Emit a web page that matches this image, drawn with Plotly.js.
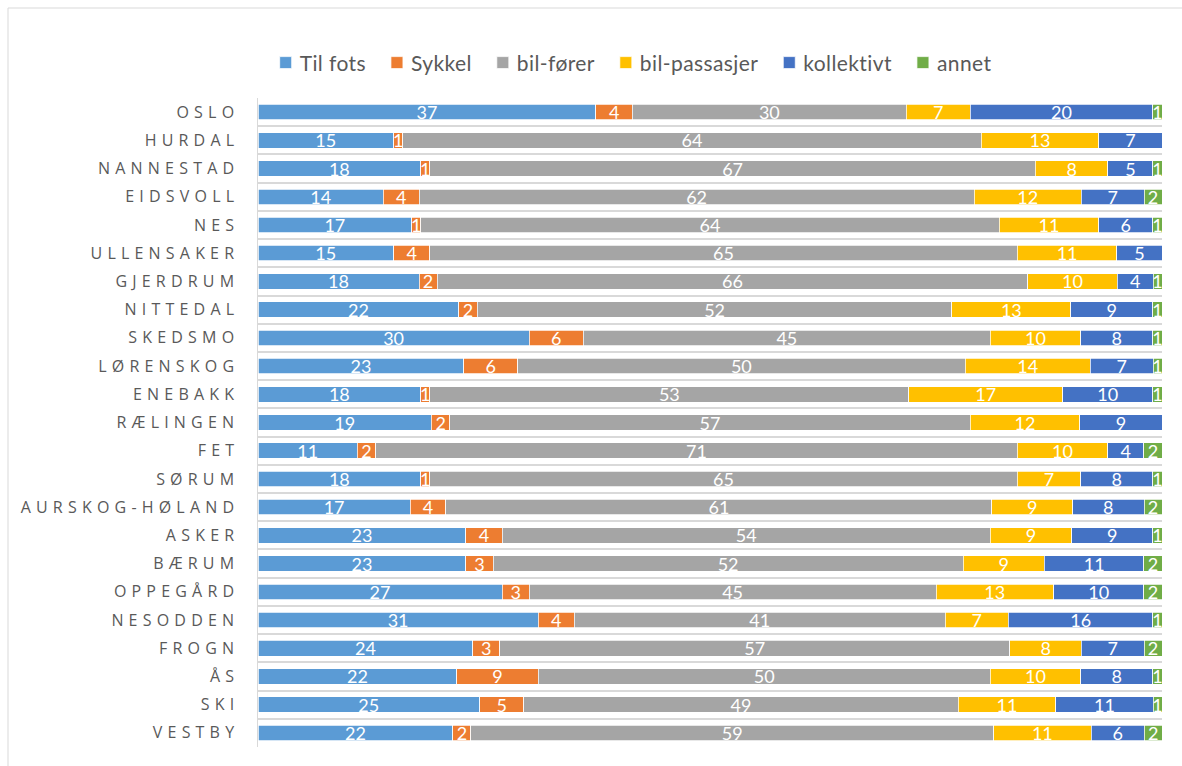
<!DOCTYPE html>
<html>
<head>
<meta charset="utf-8">
<script src="https://cdn.plot.ly/plotly-3.0.1.min.js"></script>
<style>
html,body{margin:0;padding:0;background:#fff;}
#chart{width:1182px;height:766px;}
.ytick text{letter-spacing:5.2px;}
.legendtext{letter-spacing:0.4px;transform:translateX(-6px);}
</style>
</head>
<body>
<div id="chart"></div>
<script>
const categories = ["OSLO","HURDAL","NANNESTAD","EIDSVOLL","NES","ULLENSAKER","GJERDRUM","NITTEDAL","SKEDSMO","LØRENSKOG","ENEBAKK","RÆLINGEN","FET","SØRUM","AURSKOG-HØLAND","ASKER","BÆRUM","OPPEGÅRD","NESODDEN","FROGN","ÅS","SKI","VESTBY"];
const tilFots     = [37,15,18,14,17,15,18,22,30,23,18,19,11,18,17,23,23,27,31,24,22,25,22];
const sykkel      = [4,1,1,4,1,4,2,2,6,6,1,2,2,1,4,4,3,3,4,3,9,5,2];
const bilForer    = [30,64,67,62,64,65,66,52,45,50,53,57,71,65,61,54,52,45,41,57,50,49,59];
const bilPassasjer= [7,13,8,12,11,11,10,13,10,14,17,12,10,7,9,9,9,13,7,8,10,11,11];
const kollektivt  = [20,7,5,7,6,5,4,9,8,7,10,9,4,8,8,9,11,10,16,7,8,11,6];
const annet       = [1,0,1,2,1,0,1,1,1,1,1,0,2,1,2,1,2,2,1,2,1,1,2];

const seriesNames  = ["Til fots","Sykkel","bil-fører","bil-passasjer","kollektivt","annet"];
const seriesValues = [tilFots,sykkel,bilForer,bilPassasjer,kollektivt,annet];
const seriesColors = ["#5B9BD5","#ED7D31","#A5A5A5","#FFC000","#4472C4","#70AD47"];

const traces = seriesNames.map((name,i)=>({
  type:"bar",
  orientation:"h",
  name:name,
  y:categories,
  x:seriesValues[i],
  text:seriesValues[i].map(String),
  texttemplate:"%{text}",
  textposition:"inside",
  insidetextanchor:"middle",
  constraintext:"none",
  textangle:0,
  textfont:{family:"Lato, 'Open Sans', sans-serif",size:18,color:"#ffffff"},
  marker:{color:seriesColors[i],line:{color:"#ffffff",width:0.75}},
  hoverinfo:"skip",
  cliponaxis:true
}));

const layout = {
  width:1182,height:766,
  paper_bgcolor:"#ffffff",plot_bgcolor:"#ffffff",
  margin:{l:258,r:20,t:98,b:19,pad:0},
  barmode:"stack",
  barnorm:"percent",
  bargap:0.45,
  showlegend:true,
  legend:{orientation:"h",traceorder:"normal",x:0.0085,xanchor:"left",y:1.054,yanchor:"middle",
          font:{family:"Lato, 'Open Sans', sans-serif",size:21,color:"#595959"},itemclick:false,
          bgcolor:"rgba(0,0,0,0)"},
  xaxis:{range:[0,100],showgrid:false,zeroline:false,showticklabels:false,ticks:"",showline:false,fixedrange:true},
  yaxis:{type:"category",autorange:"reversed",tickson:"boundaries",showgrid:true,gridcolor:"#d9d9d9",gridwidth:2,
         ticks:"",ticklen:0,showline:true,linecolor:"#d9d9d9",linewidth:1.5,zeroline:false,
         ticklabelstandoff:14,
         tickfont:{family:"'Open Sans', sans-serif",size:16,color:"#595959"},fixedrange:true},
  shapes:[{type:"rect",xref:"paper",yref:"paper",
           x0:(8-258)/904,x1:(1190-258)/904,y0:(747-772)/649,y1:1+(98-8)/649,
           line:{color:"#d9d9d9",width:1},fillcolor:"rgba(0,0,0,0)",layer:"below"}],
  font:{family:"'Open Sans', sans-serif"}
};

Plotly.newPlot("chart",traces,layout,{displayModeBar:false,staticPlot:true});
</script>
</body>
</html>
